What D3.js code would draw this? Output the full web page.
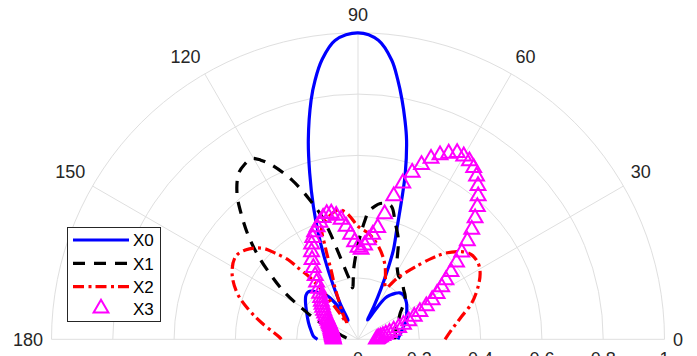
<!DOCTYPE html>
<html>
<head>
<meta charset="utf-8">
<script src="https://d3js.org/d3.v7.min.js"></script>
<style>
  body { margin: 0; background: #fff; }
  text { font-family: "Liberation Sans", Arial, Helvetica, sans-serif; }
</style>
</head>
<body>
<div id="chart"></div>
<script>
// ticks
var thetaTicks = [0, 30, 60, 90, 120, 150, 180];
var rTicks = [0.2, 0.4, 0.6, 0.8, 1];
var rLabelTicks = [0, 0.2, 0.4, 0.6, 0.8, 1];
var rTickLabels = ["0", "0.2", "0.4", "0.6", "0.8", "1"];
var seriesNames = ["X0", "X1", "X2", "X3"];

// X0 (blue, solid) - angle in degrees, radius
var theta0 = [0, 2, 9, 16, 22, 28, 33, 37, 41, 44.5, 48, 51, 54, 56.6, 59.7, 63.5, 64.3, 65.5, 67, 68.4, 70.5, 72.6, 74.1, 76.3, 77.9, 79.6, 81.3, 83.1, 86.1, 90,
  94.4, 97.4, 99.4, 101.1, 104, 106.2, 108.6, 110.5, 112.3, 114.5, 116.5, 117.5, 119.5, 123, 126, 129.3, 132, 136, 140, 145, 152, 161.6, 170, 176.4, 180];
var r0 = [0.13, 0.132, 0.142, 0.155, 0.172, 0.18, 0.19, 0.198, 0.204, 0.207, 0.204, 0.193, 0.178, 0.161, 0.111, 0.07, 0.12, 0.18, 0.25, 0.314, 0.378, 0.476, 0.563, 0.669, 0.731, 0.795, 0.857, 0.917, 0.978, 1.0,
  0.978, 0.918, 0.857, 0.795, 0.67, 0.565, 0.456, 0.37, 0.29, 0.2, 0.13, 0.07, 0.1, 0.15, 0.18, 0.194, 0.21, 0.224, 0.222, 0.209, 0.19, 0.17, 0.155, 0.145, 0.132];

// X1 (black, dashed)
var theta1 = [0, 6.9, 18.3, 25, 31.8, 37, 42.2, 47.4, 53.6, 57.2, 60, 63, 67.9, 72.5, 75.7, 78, 80.7, 83, 85.3, 86.6, 88.5, 90.8, 93.5, 96, 97.5, 99.6, 102.7, 104.7, 106.4,
  109.3, 112.5, 116.3, 118.5, 120.4, 123, 125.7, 129.7, 133.4, 136.8, 140.2, 143.9, 147.6, 151, 155.7, 161, 169, 175, 180];
var r1 = [0.12, 0.122, 0.133, 0.146, 0.162, 0.185, 0.208, 0.22, 0.241, 0.245, 0.258, 0.28, 0.35, 0.402, 0.446, 0.452, 0.449, 0.436, 0.418, 0.39, 0.345, 0.29, 0.23, 0.169, 0.19, 0.219, 0.288, 0.358, 0.417,
  0.487, 0.562, 0.634, 0.665, 0.684, 0.68, 0.667, 0.618, 0.551, 0.489, 0.422, 0.347, 0.281, 0.21, 0.141, 0.078, 0.048, 0.035, 0.03];

// X2 (red, dash-dot)
var theta2 = [0, 5.8, 12.4, 17.6, 23.7, 28.4, 32.3, 36.6, 40.2, 44.7, 47.7, 51.8, 55, 57.5, 59.5, 61, 62.7, 66, 69.5, 73, 77.5, 81, 84.4, 89.7, 95.1, 98.6, 103.5, 107.8,
  109.5, 111.6, 114, 116.3, 120.5, 124.7, 125.2, 126.5, 128, 130, 131.2, 133.8, 136.5, 141.6, 146, 152.3, 159.1, 164.9, 170.4, 178, 180];
var r2 = [0.284, 0.307, 0.346, 0.389, 0.428, 0.453, 0.464, 0.462, 0.443, 0.399, 0.357, 0.30, 0.262, 0.235, 0.205, 0.192, 0.193, 0.22, 0.253, 0.28, 0.31, 0.33, 0.348, 0.367, 0.413, 0.427, 0.411, 0.386,
  0.32, 0.232, 0.185, 0.143, 0.1, 0.064, 0.1, 0.2, 0.26, 0.305, 0.344, 0.389, 0.432, 0.469, 0.482, 0.464, 0.422, 0.369, 0.318, 0.259, 0.25];

// X3 (magenta triangles), every 2 degrees
var theta3 = d3.range(0, 181, 2);
var r3 = [0.06, 0.064, 0.068, 0.074, 0.082, 0.092, 0.105, 0.12, 0.138, 0.156,
  0.176, 0.198, 0.221, 0.248, 0.274, 0.298, 0.322, 0.346, 0.375, 0.408,
  0.442, 0.48, 0.516, 0.55, 0.582, 0.61, 0.636, 0.658, 0.675, 0.686,
  0.69, 0.689, 0.675, 0.658, 0.636, 0.606, 0.572, 0.53, 0.482, 0.418,
  0.37, 0.345, 0.326, 0.308, 0.293, 0.3, 0.318, 0.343, 0.37, 0.395,
  0.41, 0.42, 0.422, 0.413, 0.401, 0.39, 0.378, 0.363, 0.345, 0.323,
  0.3, 0.275, 0.25, 0.23, 0.21, 0.195, 0.182, 0.172, 0.163, 0.155,
  0.146, 0.138, 0.13, 0.122, 0.116, 0.11, 0.106, 0.102, 0.098, 0.095,
  0.093, 0.091, 0.089, 0.088, 0.086, 0.085, 0.084, 0.083, 0.082, 0.081, 0.08];

var svgWidth = 697;
var svgHeight = 356;
var cx = 358, cy = 339.3, radius = 306.5;

var svg = d3.select("#chart")
  .append("svg")
  .attr("width", svgWidth)
  .attr("height", svgHeight);

var chartGroup = svg.append("g")
  .attr("transform", `translate(${cx}, ${cy})`);

var rScale = d3.scaleLinear().domain([0, 1]).range([0, radius]);
// lineRadial angle: 0 = up, clockwise
var angleScale = d3.scaleLinear().domain([0, 180]).range([Math.PI / 2, -Math.PI / 2]);

function pt(t, r) {
  var a = angleScale(t);
  return [rScale(r) * Math.sin(a), -rScale(r) * Math.cos(a)];
}

// grid rings
var gridColor = "#dfdfdf";
chartGroup.selectAll(".ring")
  .data(rTicks)
  .enter()
  .append("path")
  .attr("class", "ring")
  .attr("d", d => `M ${-rScale(d)} 0 A ${rScale(d)} ${rScale(d)} 0 0 1 ${rScale(d)} 0`)
  .attr("fill", "none")
  .attr("stroke", gridColor)
  .attr("stroke-width", 1);

// spokes
chartGroup.selectAll(".spoke")
  .data(thetaTicks)
  .enter()
  .append("line")
  .attr("class", "spoke")
  .attr("x1", 0)
  .attr("y1", 0)
  .attr("x2", d => pt(d, 1)[0])
  .attr("y2", d => pt(d, 1)[1])
  .attr("stroke", gridColor)
  .attr("stroke-width", 1);

// theta labels: anchored on the edge nearest the circle
var labelDist = radius + 8.5;
chartGroup.selectAll(".tlabel")
  .data(thetaTicks)
  .enter()
  .append("text")
  .attr("class", "tlabel")
  .attr("font-size", "18px")
  .attr("fill", "#262626")
  .attr("x", d => pt(d, labelDist / radius)[0])
  .attr("y", d => {
    var y = pt(d, labelDist / radius)[1];
    return (d > 0 && d < 180) ? y - 3.5 : y + 6.5;
  })
  .attr("text-anchor", d => d < 90 ? "start" : (d > 90 ? "end" : "middle"))
  .text(d => d);

// r labels
chartGroup.selectAll(".rlabel")
  .data(rLabelTicks)
  .enter()
  .append("text")
  .attr("class", "rlabel")
  .attr("font-size", "18px")
  .attr("fill", "#262626")
  .attr("text-anchor", "middle")
  .attr("x", d => rScale(d))
  .attr("y", 25.3)
  .text((d, i) => rTickLabels[i]);

// series
var radialLine = d3.lineRadial()
  .angle(d => angleScale(d[0]))
  .radius(d => rScale(d[1]))
  .curve(d3.curveCatmullRom.alpha(0.5));

var lines = [
  { t: theta0, r: r0, color: "#0000ff", dash: null },
  { t: theta1, r: r1, color: "#000000", dash: "12,9" },
  { t: theta2, r: r2, color: "#ff0000", dash: "11,4.5,3,4" }
];

lines.forEach(function(s) {
  chartGroup.append("path")
    .datum(s.t.map((t, i) => [t, s.r[i]]))
    .attr("d", radialLine)
    .attr("fill", "none")
    .attr("stroke", s.color)
    .attr("stroke-width", 3.2)
    .attr("stroke-linejoin", "round")
    .attr("stroke-dasharray", s.dash);
});

var tri = d3.symbol().type(d3.symbolTriangle).size(95);

chartGroup.selectAll(".marker")
  .data(theta3.map((t, i) => [t, r3[i]]))
  .enter()
  .append("path")
  .attr("class", "marker")
  .attr("d", tri)
  .attr("transform", d => `translate(${pt(d[0], d[1])[0]}, ${pt(d[0], d[1])[1]})`)
  .attr("fill", "none")
  .attr("stroke", "#ff00ff")
  .attr("stroke-width", 2);

// legend
var legend = svg.append("g");
legend.append("rect")
  .attr("x", 67.5)
  .attr("y", 227.5)
  .attr("width", 93)
  .attr("height", 94)
  .attr("fill", "#fff")
  .attr("stroke", "#262626")
  .attr("stroke-width", 1);

var rowY = [240, 263.3, 286.7, 308.3];
lines.forEach(function(s, i) {
  legend.append("line")
    .attr("x1", 73)
    .attr("x2", 129)
    .attr("y1", rowY[i])
    .attr("y2", rowY[i])
    .attr("stroke", s.color)
    .attr("stroke-width", 3.2)
    .attr("stroke-dasharray", s.dash);
});
legend.append("path")
  .attr("d", tri)
  .attr("transform", `translate(101, ${rowY[3]})`)
  .attr("fill", "none")
  .attr("stroke", "#ff00ff")
  .attr("stroke-width", 2);

legend.selectAll(".ltext")
  .data(seriesNames)
  .enter()
  .append("text")
  .attr("class", "ltext")
  .attr("x", 133)
  .attr("y", (d, i) => rowY[i] + 6.3)
  .attr("font-size", "17px")
  .attr("fill", "#000")
  .text(d => d);
</script>
</body>
</html>
